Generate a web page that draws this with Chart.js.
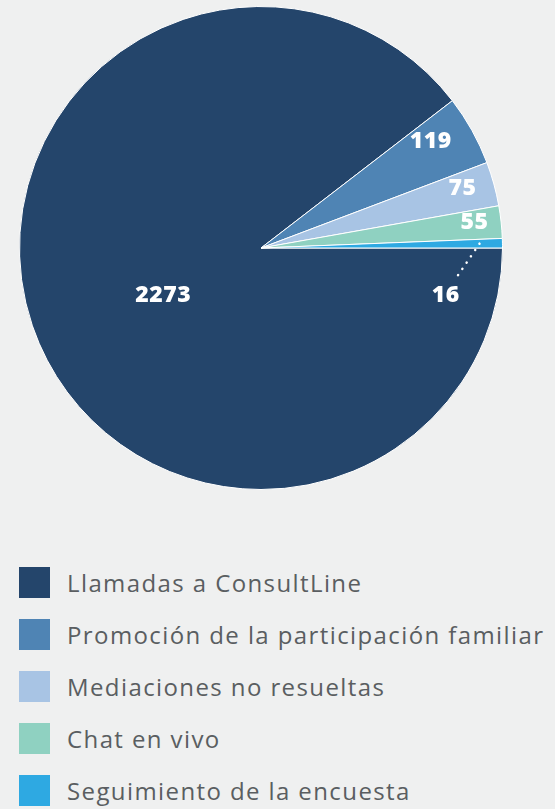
<!DOCTYPE html>
<html>
<head>
<meta charset="utf-8">
<script src="https://cdn.jsdelivr.net/npm/chart.js@4.4.0/dist/chart.umd.min.js"></script>
<style>
  html, body { margin: 0; padding: 0; background: #eff0f0; }
  body { width: 555px; height: 809px; position: relative; overflow: hidden; font-family: "Open Sans", sans-serif; }
  #wrap { position: absolute; left: 0; top: 0; width: 555px; height: 500px; }
  #legend { position: absolute; left: 19px; top: 567px; }
  .item { display: flex; align-items: center; height: 31px; margin-bottom: 21px; }
  .box { width: 31px; height: 31px; margin-right: 17px; flex: none; }
  .lbl { font-size: 24px; color: #5a5e61; white-space: nowrap; letter-spacing: 1.4px; }
</style>
</head>
<body>
<div id="wrap"><canvas id="myPie" width="555" height="500"></canvas></div>
<div id="legend"></div>
<script>
const categories = [
    'Llamadas a ConsultLine',
    'Promoción de la participación familiar',
    'Mediaciones no resueltas',
    'Chat en vivo',
    'Seguimiento de la encuesta'
]
const values = [2273, 119, 75, 55, 16]
const colors = ['#24456b', '#4f84b4', '#a8c4e4', '#8fd1c1', '#2ea9e2']

// where each number sits: fraction of radius, extra angle (deg), leader line
const labelSpots = [
    {r: 0.45, shift: -7},
    {r: 0.83, shift: -3},
    {r: 0.87, shift: -1},
    {r: 0.89, shift: -0.7},
    {r: 0.79, shift: 15.5, leader: true}
]

const sliceLabels = {
    id: 'sliceLabels',
    afterDatasetsDraw(chart) {
        let ctx = chart.ctx
        let arcs = chart.getDatasetMeta(0).data
        ctx.save()
        ctx.fillStyle = '#ffffff'
        ctx.font = '800 23px "Open Sans"'
        ctx.letterSpacing = '0.5px'
        ctx.textAlign = 'center'
        ctx.textBaseline = 'middle'
        arcs.forEach((arc, i) => {
            let p = arc.getProps(['x', 'y', 'startAngle', 'endAngle', 'outerRadius'], true)
            let mid = (p.startAngle + p.endAngle) / 2
            let spot = labelSpots[i]
            let a = mid + spot.shift * Math.PI / 180
            let lx = p.x + Math.cos(a) * p.outerRadius * spot.r
            let ly = p.y + Math.sin(a) * p.outerRadius * spot.r
            if (spot.leader) {
                let sx = p.x + Math.cos(mid) * p.outerRadius * 0.905
                let sy = p.y + Math.sin(mid) * p.outerRadius * 0.905
                let ea = mid + 9.5 * Math.PI / 180
                let ex = p.x + Math.cos(ea) * p.outerRadius * 0.82
                let ey = p.y + Math.sin(ea) * p.outerRadius * 0.82
                ctx.save()
                ctx.strokeStyle = '#ffffff'
                ctx.lineWidth = 2.5
                ctx.lineCap = 'round'
                ctx.setLineDash([0.1, 7.5])
                ctx.beginPath()
                ctx.moveTo(sx, sy)
                ctx.lineTo(ex, ey)
                ctx.stroke()
                ctx.restore()
            }
            ctx.fillText(String(values[i]), lx, ly)
        })
        ctx.restore()
    }
}

let ctx = document.querySelector('#myPie').getContext('2d')
let myPieChart = new Chart(ctx, {
    type: 'pie',
    data: {
        labels: categories,
        datasets: [{
            data: values,
            backgroundColor: colors,
            borderColor: '#ffffff',
            borderWidth: 1
        }]
    },
    options: {
        responsive: false,
        animation: false,
        rotation: 90,
        layout: {padding: {left: 19, right: 52, top: 6, bottom: 10}},
        plugins: {
            legend: {display: false},
            tooltip: {enabled: false}
        }
    },
    plugins: [sliceLabels]
})

let legendHolder = document.querySelector('#legend')
categories.forEach((name, i) => {
    let row = document.createElement('div')
    row.className = 'item'
    row.innerHTML = '<span class="box" style="background:' + colors[i] + '"></span><span class="lbl">' + name + '</span>'
    legendHolder.appendChild(row)
})
</script>
</body>
</html>
